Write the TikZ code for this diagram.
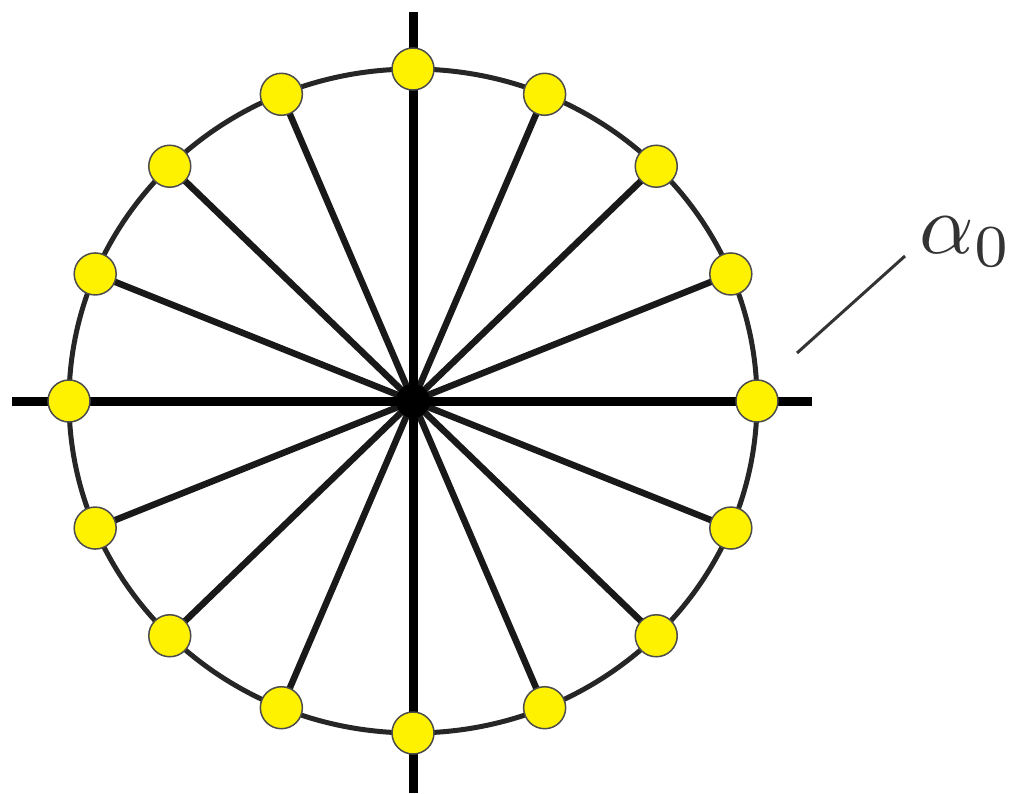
\documentclass[tikz,border=0pt]{standalone}
\usetikzlibrary{calc}
\tikzset{
      axisline/.style={
        line width=9pt,
        color=black
      },
      spokeline/.style={
        line width=6.5pt,
        color=black!90
      },
      rimline/.style={
        line width=5pt,
        color=black!85
      },
      sampledot/.style={
        circle,
        draw=black!70,
        line width=1.5pt,
        fill=yellow,
        minimum size=42pt,
        inner sep=0pt
      }
    }
\begin{document}
\begin{tikzpicture}[x=1pt,y=-1pt]
    \useasboundingbox (0,0) rectangle (1015,793);
    \coordinate (o) at (413,401);
    % sample points on the rim
    \foreach \k in {0,...,15} {
      \coordinate (p\k) at ($(o)+({344*cos(22.5*\k)},{-332*sin(22.5*\k)})$);
    }
    \draw[rimline] (o) ellipse [x radius=344, y radius=332];
    \foreach \k in {1,2,3,5,6,7,9,10,11,13,14,15} {
      \draw[spokeline] (o) -- (p\k);
    }
    \draw[axisline] (12,401) coordinate (xl) -- (812,401) coordinate (xr);
    \draw[axisline] (413,12) coordinate (yt) -- (413,793) coordinate (yb);
    \fill[black] (o) circle (17pt);
    \foreach \k in {0,...,15} {
      \node[sampledot] (s\k) at (p\k) {};
    }
    % label
    \coordinate (l0) at (797,353);
    \coordinate (l1) at (905,256);
    \draw[line width=3pt, color=black!80] (l0) -- (l1);
    \node[anchor=south west, inner sep=0pt, scale=8.5, color=black!80] (alpha) at (918,268) {$\alpha_0$};
    \end{tikzpicture}
\end{document}
